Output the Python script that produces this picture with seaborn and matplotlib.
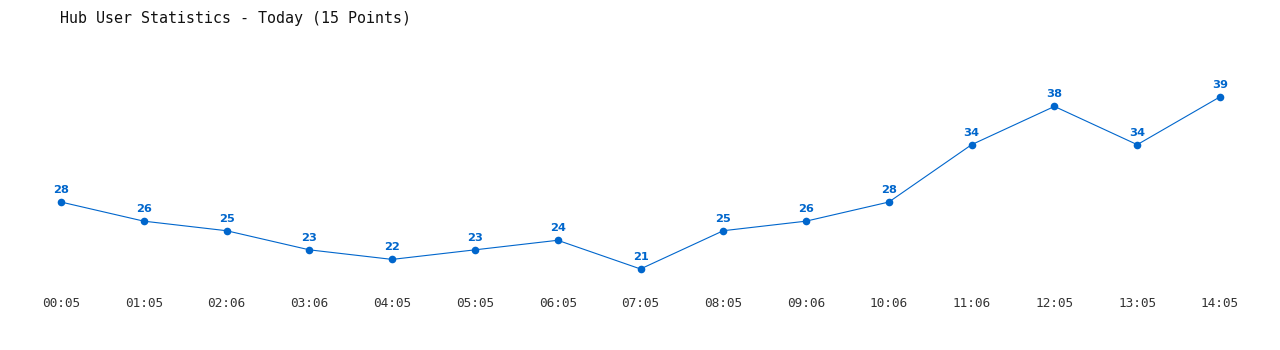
import matplotlib
matplotlib.use("Agg")
import matplotlib.pyplot as plt
import seaborn as sns
import pandas as pd

times = ["00:05", "01:05", "02:06", "03:06", "04:05", "05:05", "06:05", "07:05",
         "08:05", "09:06", "10:06", "11:06", "12:05", "13:05", "14:05"]
users = [28, 26, 25, 23, 22, 23, 24, 21, 25, 26, 28, 34, 38, 34, 39]
title = "Hub User Statistics - Today (15 Points)"

sns.set_theme(style="white")
plt.rcParams['font.family'] = ['DejaVu Sans Mono', 'DejaVu Sans']

df = pd.DataFrame({"idx": list(range(len(times))), "users": users})

fig = plt.figure(figsize=(12.8, 3.5), dpi=100)
ax = fig.add_axes([61/1280, 1 - 290/350, (1220 - 61)/1280, 240/350])
color = "#0066CC"
sns.lineplot(data=df, x="idx", y="users", ax=ax, color=color, linewidth=0.8,
             marker="o", markersize=5.5, markeredgewidth=0, markeredgecolor=color)
for ln in ax.lines:
    ln.set_clip_on(False)

for i, v in zip(df["idx"], df["users"]):
    ax.annotate(str(v), (i, v), xytext=(0, 5), textcoords="offset points",
                ha="center", va="bottom", color=color, fontsize=8.2,
                fontweight="bold", family="DejaVu Sans")

ax.set_xlim(0, len(times) - 1)
ax.set_ylim(18.8, 43.9)
ax.set_xticks(list(range(len(times))))
ax.set_xticklabels(times, fontsize=9.2, color="#333333")
ax.tick_params(axis="x", length=0, pad=5)
ax.set_yticks([])
ax.set_xlabel("")
ax.set_ylabel("")
for s in ax.spines.values():
    s.set_visible(False)
ax.grid(False)

fig.text(60/1280, 1 - 18/350, title, ha="left", va="center", fontsize=10.8,
         color="#111111")

fig.savefig("out.png", dpi=100)
